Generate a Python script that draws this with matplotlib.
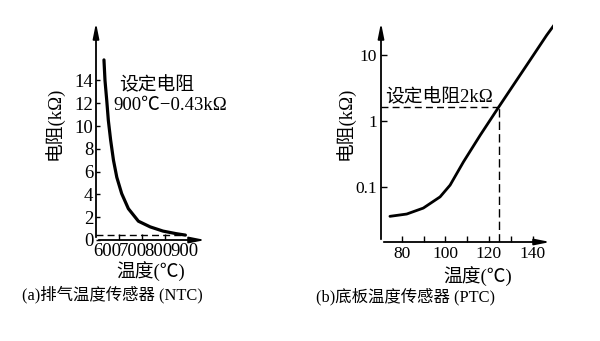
import matplotlib
matplotlib.use("Agg")
import matplotlib.pyplot as plt

plt.rcParams['font.family'] = ['Liberation Serif', 'Noto Sans CJK SC', 'DejaVu Sans']

# (a) NTC exhaust sensor
ntc_temp = [588, 592, 599, 605, 614, 625, 638, 657, 683, 722, 768, 818, 868, 905]
ntc_res = [15.8, 14.0, 12.2, 10.5, 8.76, 7.0, 5.5, 4.07, 2.75, 1.65, 1.15, 0.78, 0.56, 0.43]
ntc_xticks = [600, 700, 800, 900]
ntc_yticks = [0, 2, 4, 6, 8, 10, 12, 14]
ntc_set_temp = 905
ntc_set_res = 0.43

# (b) PTC base plate sensor
ptc_temp = [74.6, 82.3, 89.9, 97.6, 102.2, 108.3, 116.0, 124.6, 131.2, 138.9, 146.5, 150.8]
ptc_res = [0.036, 0.039, 0.048, 0.071, 0.107, 0.24, 0.61, 1.65, 3.5, 8.4, 20, 31.3]
ptc_xticks = [80, 90, 100, 110, 120, 130, 140]
ptc_xlabels = ['80', '', '100', '', '120', '', '140']
ptc_yticks = [0.1, 1, 10]
ptc_set_temp = 124.6
ptc_set_res = 1.65

W, H = 600, 341
fig = plt.figure(figsize=(6, 3.41), dpi=100)


def px_axes(x0, x1, ytop, ybot):
    return fig.add_axes([x0 / W, (H - ybot) / H, (x1 - x0) / W, (ybot - ytop) / H])


def arrows(ax):
    for s in ax.spines.values():
        s.set_visible(False)
    kw = dict(arrowstyle='-|>,head_length=0.9,head_width=0.18', color='black', lw=1.3)
    ax.annotate('', xy=(1, 0), xytext=(0, 0), xycoords='axes fraction', arrowprops=kw)
    ax.annotate('', xy=(0, 1), xytext=(0, 0), xycoords='axes fraction', arrowprops=kw)


# ---- left panel
ax1 = px_axes(96, 208, 20, 240)
ax1.plot(ntc_temp, ntc_res, color='black', lw=2.3, solid_capstyle='round')
ax1.plot([557, ntc_set_temp], [ntc_set_res, ntc_set_res], color='black', lw=1, ls=(0, (5, 3)))
ax1.set_xlim(557, 993)
ax1.set_ylim(0, 19.3)
ax1.set_xticks(ntc_xticks)
ax1.set_xticklabels([str(v) for v in ntc_xticks])
ax1.set_xticks([645, 735, 825], minor=True)
ax1.set_yticks(ntc_yticks)
ax1.tick_params(axis='x', which='major', length=0, pad=2, labelsize=13.5)
ax1.tick_params(axis='x', which='minor', direction='in', length=4, width=1)
ax1.tick_params(axis='y', direction='in', length=3, width=1, pad=2, labelsize=13.5)
arrows(ax1)
fig.text(157 / W, 1 - 85 / H, '设定电阻', fontsize=13.5, ha='center', va='center')
fig.text(170 / W, 1 - 106 / H, '900℃−0.43kΩ', fontsize=13.5, ha='center', va='center')
fig.text(54 / W, 1 - 123 / H, '电阻(kΩ)', fontsize=13.5, rotation=90, ha='center', va='center')
fig.text(151 / W, 1 - 272 / H, '温度(℃)', fontsize=13.5, ha='center', va='center')
fig.text(112 / W, 1 - 295 / H, '(a)排气温度传感器 (NTC)', fontsize=11.8, ha='center', va='center')

# ---- right panel
ax2 = px_axes(381, 553, 20, 242)
ax2.set_yscale('log')
ax2.plot(ptc_temp, ptc_res, color='black', lw=2.0, solid_capstyle='round')
ax2.plot([70.5, ptc_set_temp], [ptc_set_res, ptc_set_res], color='black', lw=1, ls=(0, (5, 3)))
ax2.plot([ptc_set_temp, ptc_set_temp], [0.0147, ptc_set_res], color='black', lw=1, ls=(0, (6, 3)))
ax2.set_xlim(70.5, 149.4)
ax2.set_ylim(0.0147, 34)
ax2.set_xticks(ptc_xticks)
ax2.set_xticklabels(ptc_xlabels)
ax2.set_yticks(ptc_yticks)
ax2.set_yticklabels(['0.1', '1', '10'])
ax2.yaxis.set_minor_locator(matplotlib.ticker.NullLocator())
ax2.tick_params(axis='x', direction='in', length=4, width=1, pad=3, labelsize=12.5)
ax2.tick_params(axis='y', direction='in', length=4, width=1, pad=3, labelsize=12.5)
arrows(ax2)
fig.text(439 / W, 1 - 97 / H, '设定电阻2kΩ', fontsize=13.5, ha='center', va='center')
fig.text(345 / W, 1 - 123 / H, '电阻(kΩ)', fontsize=13.5, rotation=90, ha='center', va='center')
fig.text(478 / W, 1 - 277 / H, '温度(℃)', fontsize=13.5, ha='center', va='center')
fig.text(405 / W, 1 - 297 / H, '(b)底板温度传感器 (PTC)', fontsize=11.8, ha='center', va='center')

fig.savefig('out.png', dpi=100)
